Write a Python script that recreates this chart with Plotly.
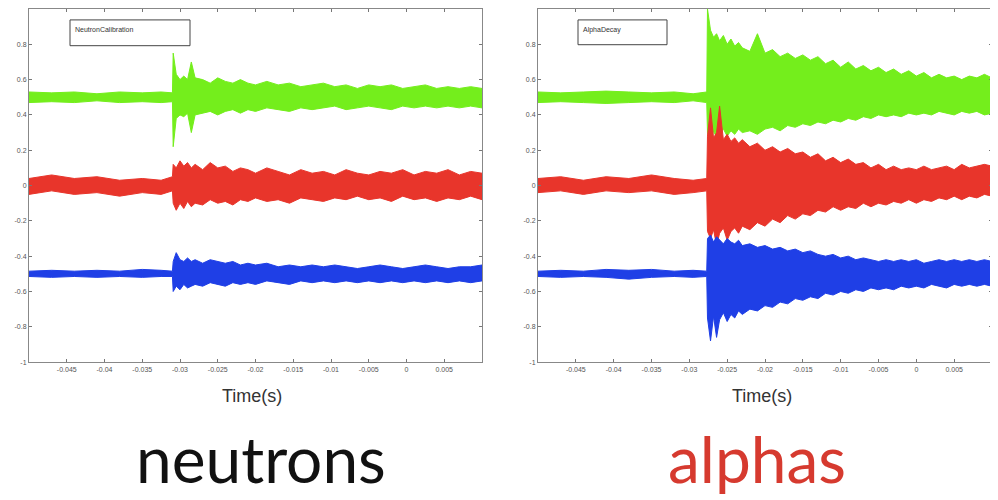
import plotly.graph_objects as go

# ---------------- data ----------------
# Left panel: Neutron calibration
t_left = [-0.050, -0.047, -0.044, -0.041, -0.038, -0.035, -0.0325, -0.0310,
          -0.0309, -0.0305, -0.0300, -0.0295, -0.0290, -0.0285, -0.0280, -0.0270,
          -0.0260, -0.0250, -0.0240, -0.0230, -0.0220, -0.0210, -0.0200, -0.0185,
          -0.0170, -0.0155, -0.0140, -0.0125, -0.0110, -0.0095, -0.0080, -0.0065,
          -0.0050, -0.0035, -0.0020, -0.0005, 0.0010, 0.0025, 0.0040, 0.0055,
          0.0070, 0.0085, 0.0100]

neu_green_hi = [0.53, 0.525, 0.53, 0.52, 0.53, 0.525, 0.53, 0.525,
                0.75, 0.63, 0.60, 0.62, 0.60, 0.70, 0.61, 0.60,
                0.58, 0.61, 0.59, 0.58, 0.60, 0.58, 0.57, 0.59,
                0.57, 0.58, 0.56, 0.57, 0.58, 0.56, 0.57, 0.55,
                0.57, 0.56, 0.57, 0.55, 0.56, 0.57, 0.55, 0.56,
                0.55, 0.56, 0.55]
neu_green_lo = [0.47, 0.475, 0.47, 0.48, 0.47, 0.475, 0.47, 0.475,
                0.22, 0.38, 0.40, 0.39, 0.41, 0.30, 0.40, 0.41,
                0.42, 0.40, 0.42, 0.43, 0.41, 0.43, 0.42, 0.44,
                0.43, 0.42, 0.44, 0.43, 0.44, 0.45, 0.43, 0.44,
                0.45, 0.44, 0.43, 0.45, 0.44, 0.45, 0.44, 0.45,
                0.44, 0.45, 0.44]
neu_red_hi = [0.04, 0.06, 0.04, 0.05, 0.03, 0.04, 0.03, 0.05,
              0.12, 0.10, 0.14, 0.11, 0.13, 0.10, 0.12, 0.09,
              0.13, 0.10, 0.11, 0.08, 0.10, 0.09, 0.07, 0.10,
              0.08, 0.06, 0.09, 0.07, 0.08, 0.06, 0.09, 0.07,
              0.06, 0.08, 0.07, 0.09, 0.06, 0.08, 0.07, 0.09,
              0.06, 0.08, 0.07]
neu_red_lo = [-0.05, -0.03, -0.05, -0.04, -0.06, -0.04, -0.05, -0.03,
              -0.10, -0.14, -0.10, -0.13, -0.09, -0.12, -0.10, -0.11,
              -0.08, -0.10, -0.09, -0.11, -0.08, -0.09, -0.07, -0.09,
              -0.08, -0.10, -0.07, -0.08, -0.09, -0.07, -0.08, -0.06,
              -0.08, -0.07, -0.09, -0.06, -0.08, -0.07, -0.09, -0.07,
              -0.08, -0.06, -0.08]
neu_blue_hi = [-0.485, -0.48, -0.485, -0.48, -0.485, -0.475, -0.48, -0.485,
               -0.43, -0.38, -0.42, -0.43, -0.41, -0.43, -0.42, -0.44,
               -0.42, -0.43, -0.44, -0.43, -0.45, -0.44, -0.45, -0.44,
               -0.46, -0.45, -0.46, -0.45, -0.46, -0.45, -0.46, -0.47,
               -0.46, -0.45, -0.46, -0.47, -0.46, -0.45, -0.46, -0.47,
               -0.46, -0.46, -0.45]
neu_blue_lo = [-0.515, -0.52, -0.515, -0.52, -0.515, -0.52, -0.515, -0.515,
               -0.60, -0.57, -0.59, -0.56, -0.58, -0.57, -0.56, -0.57,
               -0.55, -0.56, -0.57, -0.55, -0.56, -0.55, -0.56, -0.54,
               -0.55, -0.56, -0.54, -0.55, -0.54, -0.55, -0.54, -0.55,
               -0.54, -0.55, -0.54, -0.55, -0.54, -0.55, -0.54, -0.55,
               -0.54, -0.55, -0.54]

# Right panel: Alpha decay
t_right = [-0.050, -0.047, -0.044, -0.041, -0.038, -0.035, -0.032, -0.0295, -0.0277,
           -0.0276, -0.0272, -0.0268, -0.0264, -0.0260, -0.0255, -0.0250, -0.0245,
           -0.0240, -0.0235, -0.0230, -0.0220, -0.0210, -0.0200, -0.0190, -0.0180,
           -0.0170, -0.0160, -0.0150, -0.0140, -0.0130, -0.0120, -0.0110, -0.0100,
           -0.0090, -0.0080, -0.0070, -0.0060, -0.0050, -0.0040, -0.0030, -0.0020,
           -0.0010, 0.0000, 0.0010, 0.0020, 0.0030, 0.0040, 0.0050, 0.0060,
           0.0070, 0.0080, 0.0090, 0.0100]

alp_green_hi = [0.53, 0.525, 0.53, 0.535, 0.53, 0.525, 0.53, 0.52, 0.53,
                1.00, 0.88, 0.84, 0.86, 0.82, 0.85, 0.80, 0.83,
                0.79, 0.81, 0.78, 0.76, 0.86, 0.75, 0.77, 0.73,
                0.75, 0.72, 0.74, 0.71, 0.73, 0.69, 0.71, 0.67,
                0.70, 0.66, 0.68, 0.65, 0.67, 0.64, 0.66, 0.63,
                0.65, 0.62, 0.64, 0.61, 0.63, 0.61, 0.62, 0.60,
                0.62, 0.61, 0.63, 0.61]
alp_green_lo = [0.47, 0.475, 0.47, 0.465, 0.47, 0.475, 0.47, 0.48, 0.47,
                0.30, 0.24, 0.31, 0.27, 0.30, 0.32, 0.28, 0.31,
                0.29, 0.32, 0.30, 0.31, 0.29, 0.32, 0.33, 0.31,
                0.34, 0.33, 0.35, 0.34, 0.36, 0.35, 0.37, 0.36,
                0.38, 0.37, 0.39, 0.38, 0.40, 0.39, 0.40, 0.39,
                0.41, 0.40, 0.41, 0.40, 0.42, 0.41, 0.40, 0.42,
                0.41, 0.42, 0.40, 0.41]
alp_red_hi = [0.04, 0.05, 0.03, 0.05, 0.04, 0.06, 0.04, 0.03, 0.04,
              0.28, 0.44, 0.27, 0.30, 0.45, 0.26, 0.29, 0.25,
              0.27, 0.24, 0.26, 0.22, 0.24, 0.20, 0.22, 0.19,
              0.21, 0.18, 0.19, 0.16, 0.18, 0.14, 0.16, 0.13,
              0.15, 0.12, 0.13, 0.10, 0.12, 0.09, 0.11, 0.09,
              0.10, 0.09, 0.11, 0.09, 0.10, 0.11, 0.09, 0.12,
              0.10, 0.11, 0.12, 0.11]
alp_red_lo = [-0.04, -0.03, -0.05, -0.03, -0.04, -0.03, -0.05, -0.04, -0.03,
              -0.26, -0.30, -0.25, -0.34, -0.27, -0.24, -0.31, -0.26,
              -0.24, -0.27, -0.23, -0.25, -0.21, -0.23, -0.19, -0.21,
              -0.17, -0.19, -0.16, -0.17, -0.14, -0.15, -0.12, -0.14,
              -0.12, -0.13, -0.10, -0.12, -0.10, -0.11, -0.09, -0.10,
              -0.08, -0.10, -0.08, -0.09, -0.07, -0.08, -0.06, -0.08,
              -0.06, -0.07, -0.05, -0.06]
alp_blue_hi = [-0.485, -0.48, -0.485, -0.475, -0.48, -0.475, -0.485, -0.48, -0.485,
               -0.30, -0.28, -0.32, -0.29, -0.31, -0.33, -0.30, -0.32,
               -0.33, -0.31, -0.34, -0.33, -0.35, -0.34, -0.36, -0.35,
               -0.37, -0.36, -0.38, -0.37, -0.39, -0.40, -0.39, -0.41,
               -0.40, -0.42, -0.41, -0.42, -0.43, -0.42, -0.43, -0.42,
               -0.43, -0.42, -0.44, -0.43, -0.42, -0.43, -0.42, -0.43,
               -0.42, -0.43, -0.42, -0.43]
alp_blue_lo = [-0.515, -0.52, -0.515, -0.52, -0.53, -0.52, -0.515, -0.52, -0.515,
               -0.75, -0.88, -0.74, -0.86, -0.76, -0.72, -0.77, -0.73,
               -0.75, -0.71, -0.73, -0.70, -0.71, -0.68, -0.69, -0.66,
               -0.67, -0.64, -0.65, -0.63, -0.64, -0.61, -0.62, -0.60,
               -0.61, -0.59, -0.60, -0.58, -0.59, -0.58, -0.59, -0.57,
               -0.58, -0.57, -0.58, -0.56, -0.57, -0.58, -0.56, -0.57,
               -0.56, -0.57, -0.56, -0.57]

x_tickvals = [-0.045, -0.04, -0.035, -0.03, -0.025, -0.02, -0.015, -0.01, -0.005, 0, 0.005]
x_ticktext = ["-0.045", "-0.04", "-0.035", "-0.03", "-0.025", "-0.02", "-0.015",
              "-0.01", "-0.005", "0", "0.005"]
y_tickvals = [-1, -0.8, -0.6, -0.4, -0.2, 0, 0.2, 0.4, 0.6, 0.8, 1]
y_ticktext = ["-1", "-0.8", "-0.6", "-0.4", "-0.2", "0", "0.2", "0.4", "0.6", "0.8", "1"]

legend_texts = ["NeutronCalibration", "AlphaDecay"]
panel_labels = ["neutrons", "alphas"]

GREEN = "#74ee1c"
RED = "#e8352b"
BLUE = "#1f3fe6"

# page body adds an 8px margin; map screen pixels to figure paper coords
OFF = 8
W, H = 998 - OFF, 500 - OFF


def px(x):
    return (x - OFF) / W


def py(y):
    return 1 - (y - OFF) / H


fig = go.Figure()


def band(t, hi, lo, color, xa, ya):
    xs = list(t) + list(t)[::-1]
    ys = list(hi) + list(lo)[::-1]
    fig.add_trace(go.Scatter(x=xs, y=ys, fill="toself", fillcolor=color,
                             mode="lines", line=dict(color=color, width=1),
                             hoverinfo="skip", showlegend=False,
                             xaxis=xa, yaxis=ya))


band(t_left, neu_green_hi, neu_green_lo, GREEN, "x", "y")
band(t_left, neu_red_hi, neu_red_lo, RED, "x", "y")
band(t_left, neu_blue_hi, neu_blue_lo, BLUE, "x", "y")
band(t_right, alp_green_hi, alp_green_lo, GREEN, "x2", "y2")
band(t_right, alp_red_hi, alp_red_lo, RED, "x2", "y2")
band(t_right, alp_blue_hi, alp_blue_lo, BLUE, "x2", "y2")

ydom = [py(364), py(8)]
tickfont = dict(family="Liberation Sans, Arial", size=7, color="#555555")
common_x = dict(range=[-0.05, 0.01], tickvals=x_tickvals, ticktext=x_ticktext,
                ticks="inside", ticklen=3, tickcolor="#777", showline=True,
                linecolor="#888", linewidth=1, mirror="ticks", showgrid=False,
                zeroline=False, tickfont=tickfont, fixedrange=True)
common_y = dict(range=[-1, 1], tickvals=y_tickvals, ticktext=y_ticktext,
                ticks="inside", ticklen=3, tickcolor="#777", showline=True,
                linecolor="#888", linewidth=1, mirror="ticks", showgrid=False,
                zeroline=False, tickfont=tickfont, fixedrange=True)

fig.update_layout(
    width=W, height=H,
    margin=dict(l=0, r=0, t=0, b=0),
    paper_bgcolor="white", plot_bgcolor="white",
    xaxis=dict(domain=[px(29), px(482)], anchor="y", **common_x),
    yaxis=dict(domain=ydom, anchor="x", **common_y),
    xaxis2=dict(domain=[px(538), px(992)], anchor="y2", **common_x),
    yaxis2=dict(domain=ydom, anchor="x2", **common_y),
    showlegend=False,
)

# legend boxes
boxes = [(70, 190, 19, 45), (578, 667, 19, 44)]
for (x0, x1, y0, y1), txt in zip(boxes, legend_texts):
    fig.add_shape(type="rect", xref="paper", yref="paper",
                  x0=px(x0), x1=px(x1), y0=py(y1), y1=py(y0),
                  line=dict(color="#444", width=1), fillcolor="white")
    fig.add_annotation(xref="paper", yref="paper", x=px(x0 + 3), y=py(y0 + 10),
                       text=txt, showarrow=False, xanchor="left", yanchor="middle",
                       font=dict(family="Liberation Sans, Arial", size=7, color="#333"))

# axis titles and panel labels
for cx_t, cx_l, lab, col in [(252, 261, panel_labels[0], "#111111"),
                             (762, 757, panel_labels[1], "#d63a2f")]:
    fig.add_annotation(xref="paper", yref="paper", x=px(cx_t), y=py(398),
                       text="Time(s)", showarrow=False, xanchor="center", yanchor="middle",
                       font=dict(family="Liberation Sans, Arial", size=18, color="#333"))
    fig.add_annotation(xref="paper", yref="paper", x=px(cx_l), y=py(461),
                       text=lab, showarrow=False, xanchor="center", yanchor="middle",
                       font=dict(family="Lato", size=64, color=col))

fig.write_html("out.html")
